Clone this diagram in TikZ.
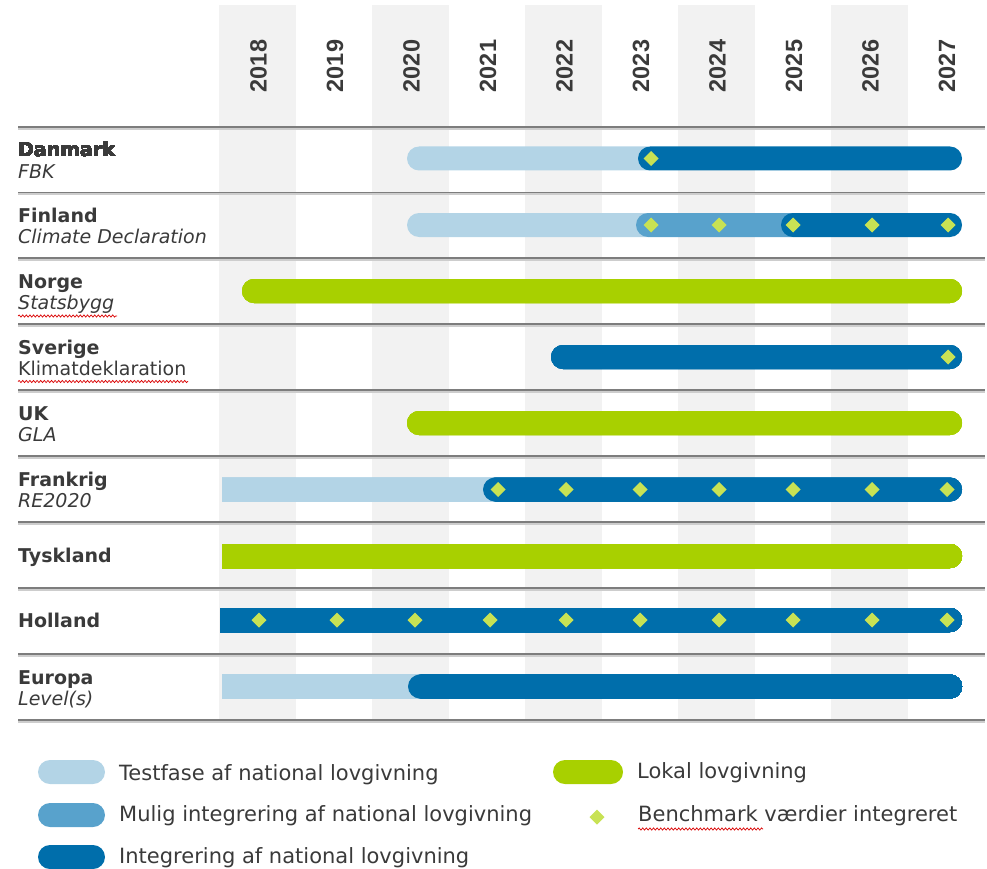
\documentclass[tikz,border=0pt]{standalone}
\usepackage{fontspec}
\setmainfont{DejaVu Sans}
\newfontfamily\yearfont{Liberation Sans}
\usetikzlibrary{decorations.pathmorphing}
\definecolor{lightb}{RGB}{179,212,230}
\definecolor{midb}{RGB}{88,162,204}
\definecolor{darkb}{RGB}{0,110,171}
\definecolor{lime}{RGB}{168,208,0}
\definecolor{diac}{RGB}{200,226,84}
\definecolor{colshade}{RGB}{242,242,242}
\definecolor{rulec}{RGB}{125,125,125}
\definecolor{rules}{RGB}{205,205,205}
\definecolor{txt}{RGB}{58,58,58}
% bar rounded at both ends
\newcommand\rdbar[4]{\fill[#1] (#2+12,#4-12) -- (#3-12,#4-12) arc[start angle=-90,end angle=90,radius=12] -- (#2+12,#4+12) arc[start angle=90,end angle=270,radius=12] -- cycle;}
% bar square at the left end
\newcommand\sqbar[4]{\fill[#1] (#2,#4-12) -- (#3-12,#4-12) arc[start angle=-90,end angle=90,radius=12] -- (#2,#4+12) -- cycle;}
\newcommand\bmk[2]{\fill[diac] (#1,#2-7.5) -- (#1+7.5,#2) -- (#1,#2+7.5) -- (#1-7.5,#2) -- cycle;}
\begin{document}
\begin{tikzpicture}[x=1pt,y=-1pt,
  cname/.style={anchor=base west, inner sep=0pt, text=txt, font=\fontsize{19}{22}\selectfont\bfseries},
  csub/.style={anchor=base west, inner sep=0pt, text=txt, font=\fontsize{19}{22}\selectfont\itshape},
  cupr/.style={anchor=base west, inner sep=0pt, text=txt, font=\fontsize{19}{22}\selectfont},
  leg/.style={anchor=base west, inner sep=0pt, text=txt, font=\fontsize{21}{24}\selectfont},
  yr/.style={rotate=90, inner sep=0pt, text=txt, font=\yearfont\bfseries\fontsize{23.5}{26}\selectfont},
  squig/.style={draw=red!85!black, line width=0.7pt, decorate, decoration={snake, amplitude=1.1pt, segment length=3.6pt}}
]
\useasboundingbox (0,0) rectangle (987,869);
% shaded columns
\foreach \a/\b in {219/295.5, 372/448.5, 525/601.5, 678/754.5, 831/907.5}
  \fill[colshade] (\a,5) rectangle (\b,720);
% year labels
\foreach \yy [count=\k from 0] in {2018,2019,2020,2021,2022,2023,2024,2025,2026,2027}
  \node[yr] (y\yy) at (258.5+76.5*\k,66) {\yy};
% rules
\foreach \ly in {127,192.5,258,324,390,456,522,588,654,720} {
  \draw[rules, line width=1.6pt] (18,\ly+1.8) -- (985,\ly+1.8);
  \draw[rulec, line width=1.8pt] (18,\ly) -- (985,\ly);
}
% Danmark
\rdbar{lightb}{407}{660}{158.5}
\rdbar{darkb}{638}{962}{158.5}
\bmk{651}{158.5}
% Finland
\rdbar{lightb}{407}{660}{225}
\rdbar{midb}{636}{805}{225}
\rdbar{darkb}{781}{962}{225}
\foreach \x in {651,719,793,872,948} \bmk{\x}{225}
% Norge
\rdbar{lime}{242}{962}{291}
% Sverige
\rdbar{darkb}{551}{962}{357}
\bmk{948}{357}
% UK
\rdbar{lime}{407}{962}{423}
% Frankrig
\sqbar{lightb}{222}{505}{489.5}
\rdbar{darkb}{483}{962}{489.5}
\foreach \x in {498,566,640,719,793,872,947} \bmk{\x}{489.5}
% Tyskland
\sqbar{lime}{222}{962}{556}
% Holland
\sqbar{darkb}{220}{962}{620}
\foreach \x in {259,337,415,490,566,640,719,793,872,947} \bmk{\x}{620}
% Europa
\sqbar{lightb}{222}{430}{686.5}
\rdbar{darkb}{408}{962}{686.5}
% labels
\node[cname] (dk) at (18,157) {Danmark};
\node[csub] (dks) at (18,178.5) {FBK};
\node[cname] (fi) at (18,222.5) {Finland};
\node[csub] (fis) at (18,243.5) {Climate Declaration};
\node[cname] (no) at (18,288) {Norge};
\node[csub] (nos) at (18,309) {Statsbygg};
\node[cname] (se) at (18,354) {Sverige};
\node[cupr] (ses) at (18,375) {Klimatdeklaration};
\node[cname] (uk) at (18,420) {UK};
\node[csub] (uks) at (18,441) {GLA};
\node[cname] (fr) at (18,486) {Frankrig};
\node[csub] (frs) at (18,507) {RE2020};
\node[cname] (de) at (18,562) {Tyskland};
\node[cname] (nl) at (18,627) {Holland};
\node[cname] (eu) at (18,684) {Europa};
\node[csub] (eus) at (18,705) {Level(s)};
\path[squig] (18,316) -- (117,316);
\path[squig] (18,381.5) -- (188,381.5);
% legend
\rdbar{lightb}{38}{105}{772}
\rdbar{midb}{38}{105}{815}
\rdbar{darkb}{38}{105}{857}
\rdbar{lime}{553}{623}{772}
\bmk{597}{817}
\node[leg] (l1) at (119,780) {Testfase af national lovgivning};
\node[leg] (l2) at (119,821.5) {Mulig integrering af national lovgivning};
\node[leg] (l3) at (119,863) {Integrering af national lovgivning};
\node[leg] (l4) at (637,778.5) {Lokal lovgivning};
\node[leg] (l5) at (638,821.5) {Benchmark værdier integreret};
\path[squig] (638,829) -- (763,829);
\end{tikzpicture}
\end{document}
